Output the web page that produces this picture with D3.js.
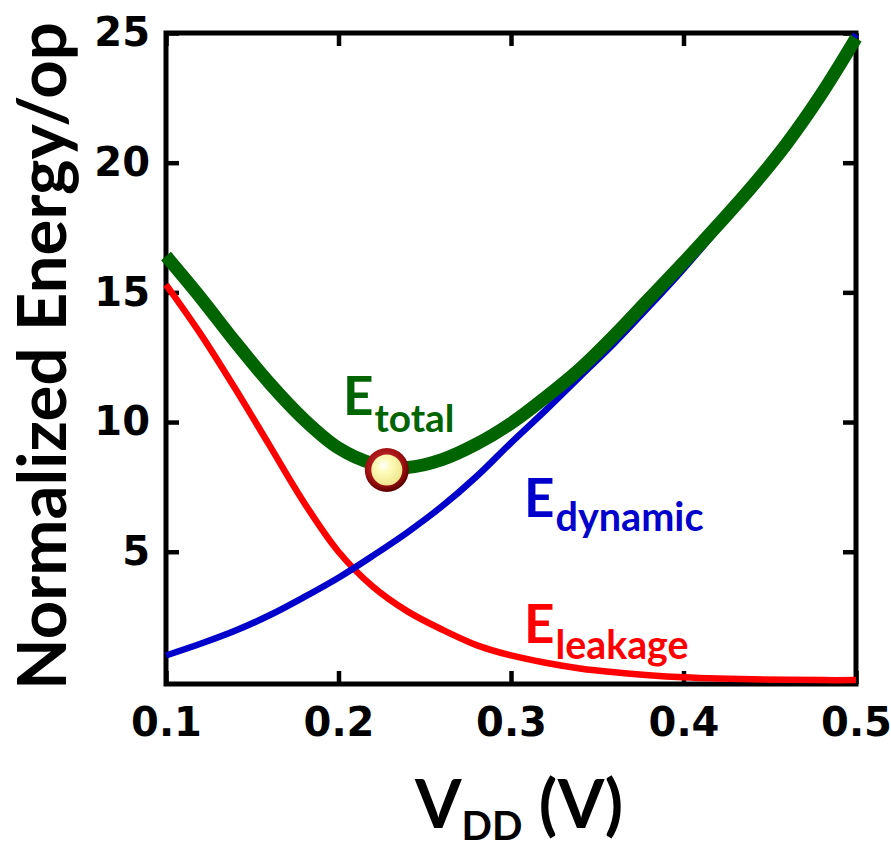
<!DOCTYPE html>
<html><head><meta charset="utf-8">
<script src="https://cdn.jsdelivr.net/npm/d3@7"></script>
<style>body{margin:0;background:#fff}svg{display:block}</style>
</head><body><svg id="c" width="891" height="849"></svg>
<script>
// ---- data ----
const vdd      = [0.10,0.12,0.14,0.16,0.18,0.20,0.22,0.24,0.26,0.28,0.30,0.32,0.34,0.36,0.38,0.40,0.42,0.44,0.46,0.48,0.50];
const eTotal   = [16.4,14.8,13.1,11.5,10.1, 9.0, 8.4, 8.25,8.55,9.15,9.95,10.95,12.05,13.35,14.75,16.15,17.6,19.1,20.75,22.65,24.8];
const eDynamic = [1.0, 1.45,1.95,2.55,3.25,4.0, 4.85,5.75,6.75,7.9, 9.2,10.45,11.75,13.05,14.45,15.9,17.45,19.05,20.85,22.8,24.95];
const eLeakage = [15.3,13.4,11.3, 9.1, 6.9, 5.0, 3.65,2.7, 2.0, 1.4, 1.0, 0.72,0.5,0.35,0.24,0.16,0.11,0.08,0.06,0.05,0.05];
const xTicks = [0.1,0.2,0.3,0.4,0.5];
const yTicks = [5,10,15,20,25];
const minPoint = {v:0.228, e:8.15};

const svg = d3.select("#c");
const x = d3.scaleLinear().domain([0.1,0.5]).range([166,856]);
const y = d3.scaleLinear().domain([-0.1,25]).range([684,33]);

const defs = svg.append("defs");
const g1 = defs.append("radialGradient").attr("id","ring").attr("cx","45%").attr("cy","40%").attr("r","60%");
g1.append("stop").attr("offset","0%").attr("stop-color","#d23a3a");
g1.append("stop").attr("offset","70%").attr("stop-color","#a01010");
g1.append("stop").attr("offset","100%").attr("stop-color","#5a0000");
const g2 = defs.append("radialGradient").attr("id","core").attr("cx","40%").attr("cy","35%").attr("r","70%");
g2.append("stop").attr("offset","0%").attr("stop-color","#ffffff");
g2.append("stop").attr("offset","35%").attr("stop-color","#fdfbb8");
g2.append("stop").attr("offset","100%").attr("stop-color","#ece48a");

const tickFont = "'DejaVu Sans', Verdana, sans-serif";
const titleFont = "Lato, 'Open Sans', sans-serif";

function styleAxis(sel){
  sel.select(".domain").remove();
  sel.selectAll(".tick line").attr("stroke","#000").attr("stroke-width",4.5);
  sel.selectAll(".tick text").attr("font-family",tickFont).attr("font-weight","bold").attr("font-size",40).attr("fill","#000");
}
svg.append("g").attr("transform","translate(0,684)")
  .call(d3.axisBottom(x).tickValues(xTicks).tickSize(-13).tickPadding(24).tickFormat(d3.format(".1f"))).call(styleAxis);
svg.append("g").attr("transform","translate(0,33)")
  .call(d3.axisTop(x).tickValues(xTicks).tickSize(-13).tickFormat("")).call(styleAxis);
svg.append("g").attr("transform","translate(166,0)")
  .call(d3.axisLeft(y).tickValues(yTicks).tickSize(-13).tickPadding(16)).call(styleAxis);
svg.append("g").attr("transform","translate(856,0)")
  .call(d3.axisRight(y).tickValues(yTicks).tickSize(-13).tickFormat("")).call(styleAxis);

svg.append("rect").attr("x",x(0.1)).attr("y",y(25)).attr("width",x(0.5)-x(0.1)).attr("height",y(-0.1)-y(25))
  .attr("fill","none").attr("stroke","#000").attr("stroke-width",5);

const line = arr => d3.line().x((d,i)=>x(vdd[i])).y(d=>y(d)).curve(d3.curveCatmullRom.alpha(0.5))(arr);
svg.append("path").attr("d",line(eLeakage)).attr("fill","none").attr("stroke","#ff0000").attr("stroke-width",6.5);
svg.append("path").attr("d",line(eDynamic)).attr("fill","none").attr("stroke","#0000cc").attr("stroke-width",6.5);
svg.append("path").attr("d",line(eTotal)).attr("fill","none").attr("stroke","#006400").attr("stroke-width",13);

svg.append("circle").attr("cx",x(minPoint.v)).attr("cy",y(minPoint.e)).attr("r",22).attr("fill","url(#ring)");
svg.append("circle").attr("cx",x(minPoint.v)).attr("cy",y(minPoint.e)).attr("r",15.5).attr("fill","url(#core)");

function fit(t, w){
  const n = t.node(); const cur = +t.attr("font-size");
  const len = n.getComputedTextLength(); t.attr("font-size", cur*w/len);
}
function label(xp, yE, ySub, big, sub, color, subW){
  const e = svg.append("text").attr("x",xp).attr("y",yE).attr("font-family",titleFont).attr("font-weight","bold")
    .attr("font-size",53).attr("fill",color).text(big);
  const ew = e.node().getComputedTextLength();
  const s = svg.append("text").attr("x",xp+ew+1).attr("y",ySub).attr("font-family",titleFont).attr("font-weight","bold")
    .attr("font-size",36).attr("fill",color).text(sub);
  fit(s, subW);
}
label(343, 415, 432, "E", "total", "#006400", 80);
label(524, 517, 531, "E", "dynamic", "#0000cc", 148);
label(524, 643, 659, "E", "leakage", "#ff0000", 133);

const yt = svg.append("text").attr("transform","translate(66,356) rotate(-90)").attr("text-anchor","middle")
  .attr("font-family",titleFont).attr("font-weight","bold").attr("font-size",66).attr("fill","#000")
  .text("Normalized Energy/op");
fit(yt, 668);

const xt = svg.append("text").attr("x",415).attr("y",828).attr("font-family",titleFont).attr("font-weight","bold")
  .attr("font-size",67).attr("fill","#000");
xt.append("tspan").text("V");
xt.append("tspan").attr("font-size",40).attr("dy",12).text("DD");
xt.append("tspan").attr("dy",-12).text(" (V)");
</script>
</body></html>
